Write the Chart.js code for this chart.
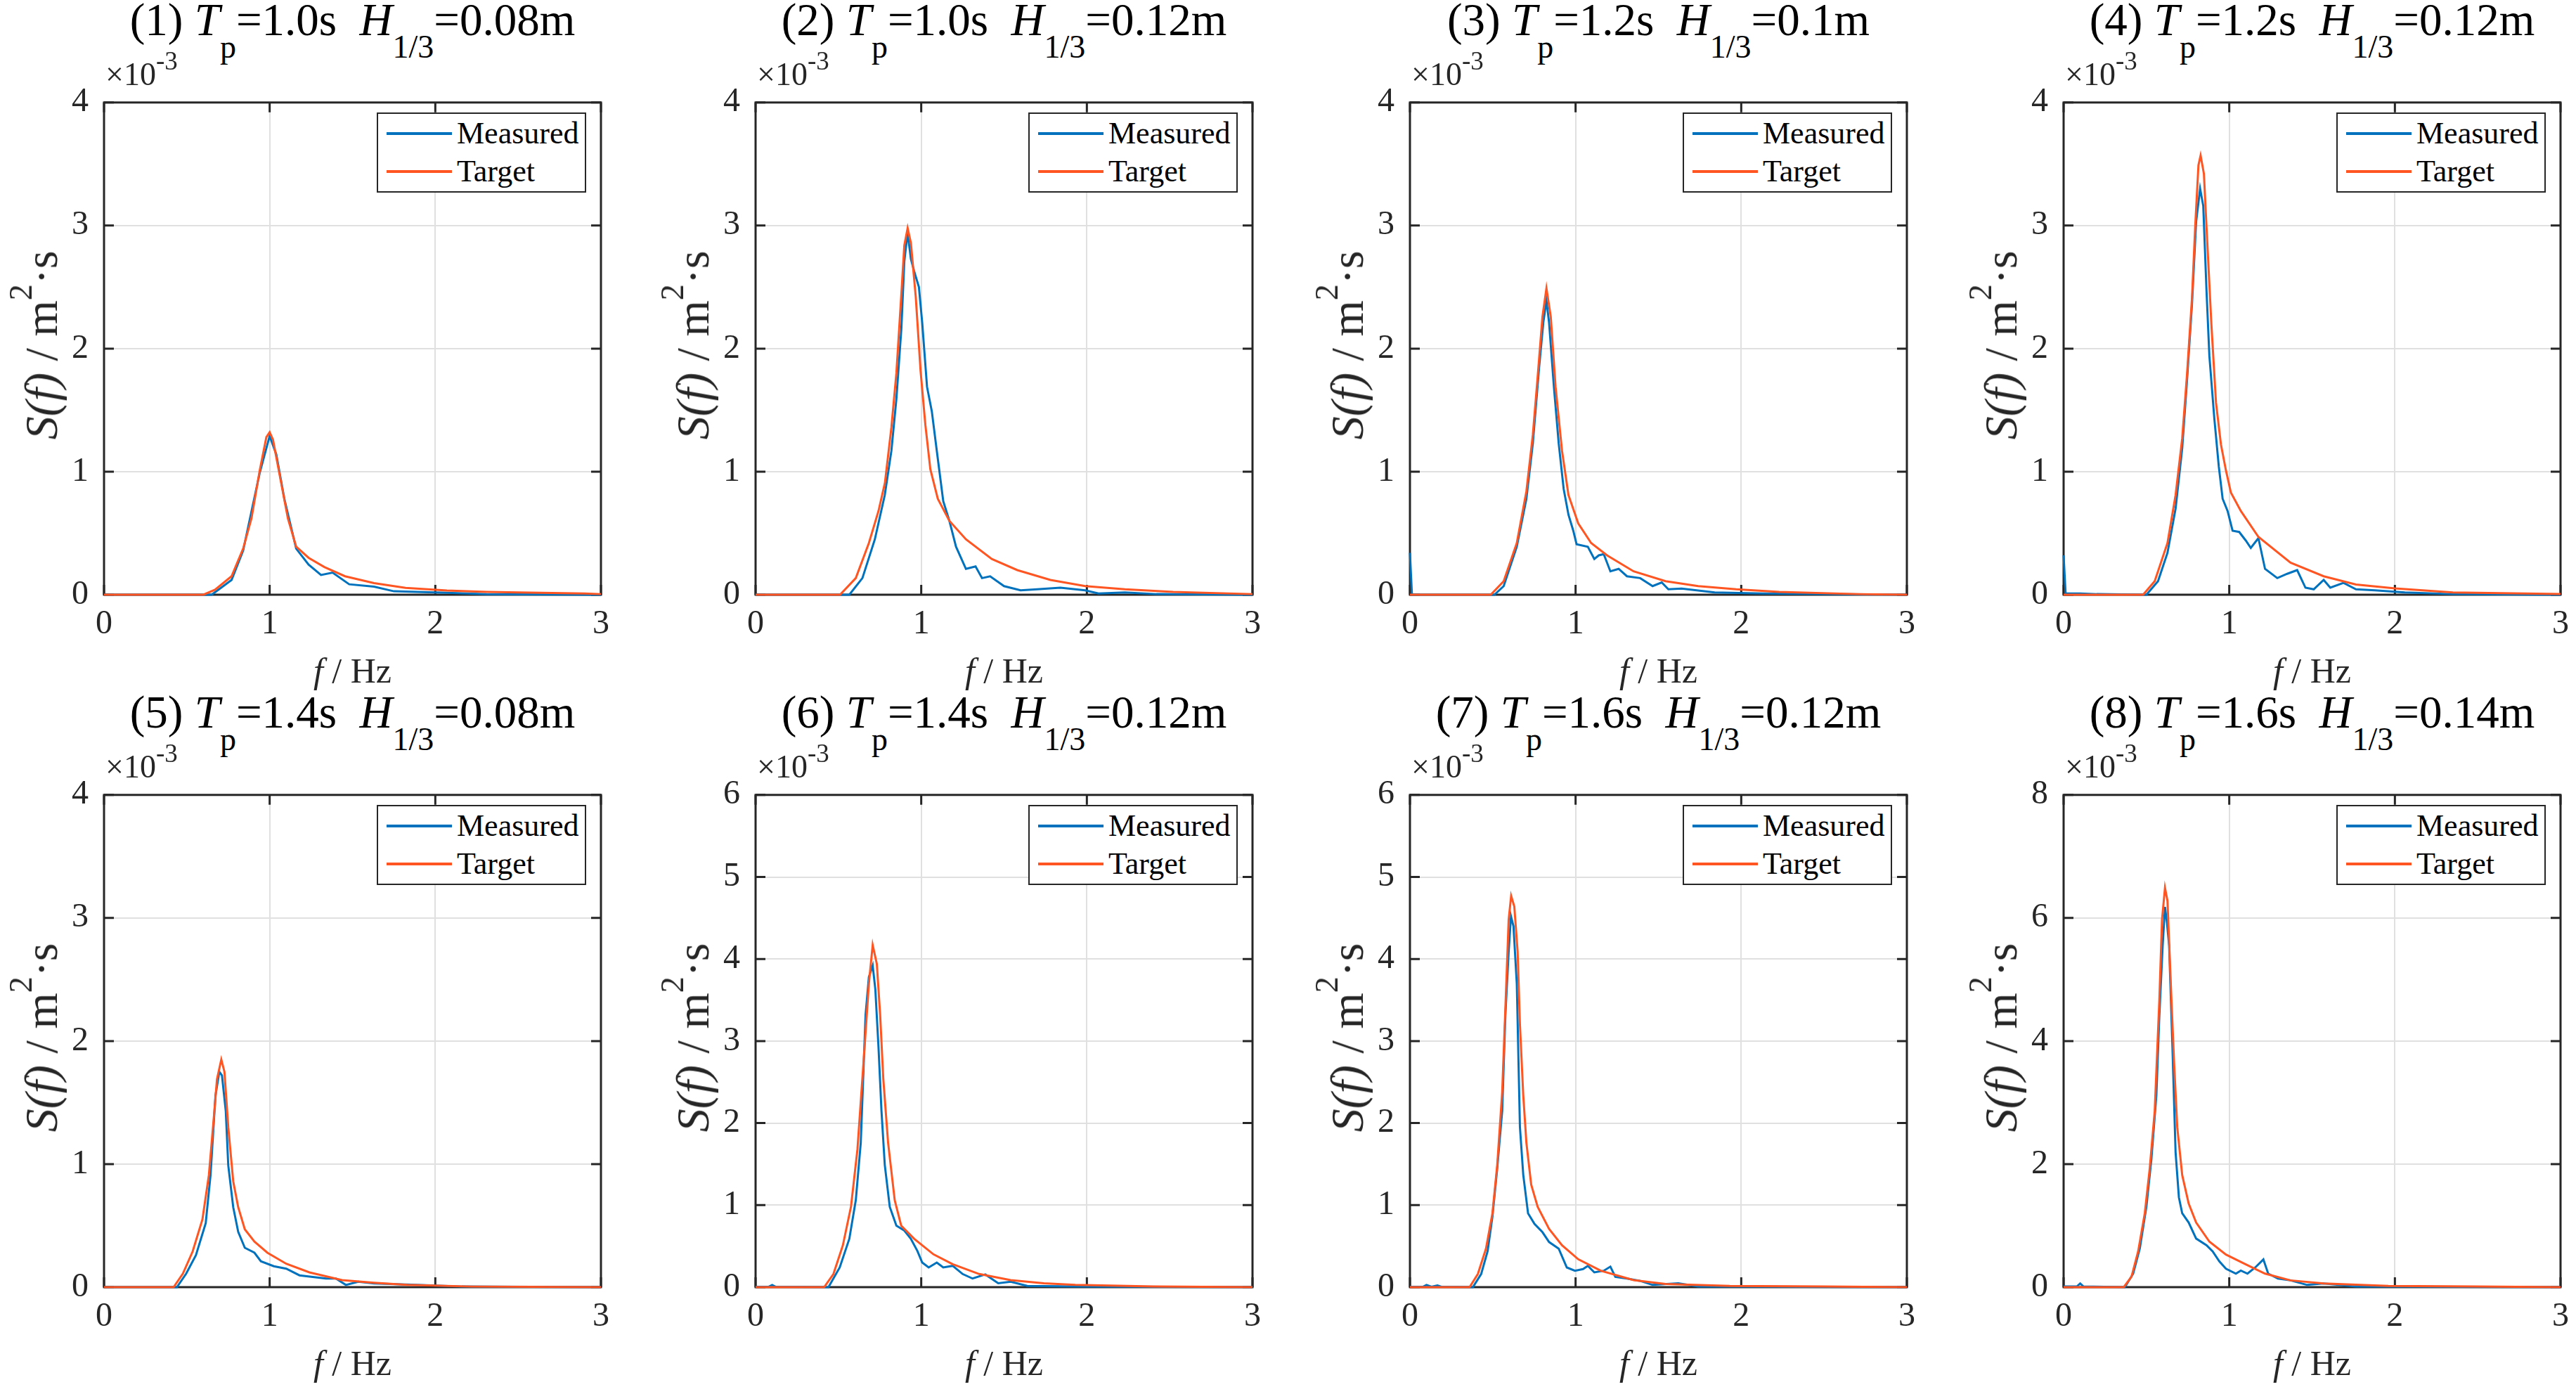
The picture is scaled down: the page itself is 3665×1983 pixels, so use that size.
<!DOCTYPE html>
<html>
<head>
<meta charset="utf-8">
<script src="https://cdn.jsdelivr.net/npm/chart.js@4.4.0/dist/chart.umd.min.js"></script>
<style>
html, body { margin: 0; padding: 0; background: #fff; }
body { width: 3665px; height: 1983px; position: relative; overflow: hidden;
       font-family: 'Liberation Serif', 'Times New Roman', serif; color: #000; }
canvas { position: absolute; }
.title { position: absolute; font-size: 65px; line-height: 1; white-space: nowrap; transform: translateX(-50%); }
.title sub { font-size: 46px; vertical-align: -32px; line-height: 0; }
.xlabel { position: absolute; font-size: 50px; line-height: 1; white-space: nowrap; transform: translateX(-50%); color: #262626; }
.ylabel { position: absolute; font-size: 66px; line-height: 1; white-space: nowrap;
          transform: translate(-50%, -50%) rotate(-90deg); color: #262626; }
.ylabel sup { font-size: 46px; vertical-align: 36px; line-height: 0; }
.expo { position: absolute; font-size: 46px; line-height: 1; white-space: nowrap; color: #262626; }
.expo sup { font-size: 37px; vertical-align: 22px; line-height: 0; }
.legend { position: absolute; width: 298px; height: 114px; box-sizing: border-box;
          border: 2px solid #262626; background: #fff; }
.legend .swatch { position: absolute; left: 12px; width: 93px; height: 4px; }
.legend .lab { position: absolute; left: 112px; font-size: 44px; line-height: 1; color: #000; }
</style>
</head>
<body>
<script>
// spectra in units of 1e-3 m^2*s
const targetF1 = [0, 0.60, 0.67, 0.77, 0.84, 0.89, 0.94, 0.98, 1.00, 1.02, 1.06, 1.11, 1.16, 1.235, 1.33, 1.455, 1.63, 1.82, 2.07, 2.31, 2.9, 3.0];
const targetS1 = [0, 0, 0.04, 0.15, 0.375, 0.62, 1.01, 1.28, 1.32, 1.26, 0.975, 0.62, 0.39, 0.30, 0.225, 0.15, 0.094, 0.056, 0.034, 0.023, 0.01, 0.005];
const measuredF1 = [0, 0.65, 0.77, 0.84, 0.94, 1.00, 1.04, 1.09, 1.16, 1.235, 1.31, 1.38, 1.48, 1.63, 1.75, 2.07, 2.31, 3.0];
const measuredS1 = [0, 0, 0.12, 0.36, 0.99, 1.29, 1.14, 0.77, 0.375, 0.245, 0.16, 0.18, 0.085, 0.066, 0.028, 0.015, 0.004, 0];

const targetF2 = [0, 0.51, 0.605, 0.684, 0.742, 0.781, 0.82, 0.85, 0.879, 0.898, 0.918, 0.9375, 0.967, 0.996, 1.025, 1.055, 1.10, 1.17, 1.27, 1.426, 1.58, 1.78, 1.99, 2.23, 2.52, 3.0];
const targetS2 = [0, 0, 0.135, 0.42, 0.68, 0.91, 1.36, 1.80, 2.42, 2.84, 2.98, 2.86, 2.42, 1.82, 1.38, 1.02, 0.78, 0.60, 0.45, 0.29, 0.20, 0.12, 0.07, 0.044, 0.023, 0.005];
const measuredF2 = [0, 0.566, 0.645, 0.72, 0.78, 0.82, 0.85, 0.88, 0.898, 0.918, 0.9375, 0.957, 0.986, 1.006, 1.035, 1.064, 1.094, 1.133, 1.17, 1.21, 1.27, 1.328, 1.367, 1.416, 1.50, 1.60, 1.70, 1.84, 1.99, 2.07, 2.23, 2.42, 3.0];
const measuredS2 = [0, 0, 0.135, 0.45, 0.81, 1.17, 1.59, 2.16, 2.71, 2.94, 2.73, 2.63, 2.50, 2.21, 1.69, 1.49, 1.17, 0.76, 0.60, 0.39, 0.21, 0.23, 0.135, 0.15, 0.07, 0.036, 0.044, 0.057, 0.036, 0.01, 0.018, 0.005, 0];

const targetF3 = [0, 0.488, 0.566, 0.645, 0.703, 0.742, 0.771, 0.80, 0.824, 0.85, 0.879, 0.918, 0.957, 1.016, 1.094, 1.19, 1.35, 1.543, 1.74, 1.97, 2.23, 2.71, 3.0];
const targetS3 = [0, 0, 0.11, 0.42, 0.84, 1.30, 1.77, 2.26, 2.49, 2.26, 1.69, 1.17, 0.81, 0.58, 0.42, 0.32, 0.19, 0.11, 0.07, 0.044, 0.023, 0.005, 0];
const measuredF3 = [0, 0.012, 0.51, 0.566, 0.645, 0.703, 0.742, 0.78, 0.805, 0.824, 0.84, 0.869, 0.898, 0.928, 0.957, 0.986, 1.006, 1.074, 1.113, 1.14, 1.17, 1.21, 1.26, 1.31, 1.39, 1.465, 1.52, 1.56, 1.64, 1.84, 2.13, 3.0];
const measuredS3 = [0.34, 0, 0, 0.07, 0.39, 0.78, 1.23, 1.85, 2.21, 2.39, 2.21, 1.69, 1.23, 0.86, 0.65, 0.52, 0.41, 0.39, 0.29, 0.32, 0.33, 0.19, 0.21, 0.15, 0.135, 0.07, 0.10, 0.044, 0.05, 0.018, 0.01, 0];

const targetF4 = [0, 0.48, 0.55, 0.627, 0.676, 0.716, 0.745, 0.775, 0.794, 0.814, 0.827, 0.847, 0.863, 0.892, 0.92, 0.95, 0.98, 1.01, 1.07, 1.176, 1.37, 1.57, 1.765, 2.0, 2.35, 3.0];
const targetS4 = [0, 0, 0.11, 0.42, 0.81, 1.27, 1.79, 2.41, 2.98, 3.49, 3.57, 3.42, 2.98, 2.20, 1.56, 1.22, 1.01, 0.83, 0.68, 0.47, 0.26, 0.15, 0.083, 0.052, 0.018, 0.005];
const measuredF4 = [0, 0.012, 0.1, 0.2, 0.5, 0.57, 0.627, 0.676, 0.716, 0.745, 0.775, 0.80, 0.824, 0.843, 0.863, 0.88, 0.91, 0.937, 0.96, 0.99, 1.02, 1.06, 1.10, 1.13, 1.176, 1.216, 1.29, 1.35, 1.41, 1.46, 1.51, 1.57, 1.61, 1.69, 1.765, 1.88, 2.06, 2.35, 3.0];
const measuredS4 = [0.32, 0.01, 0.01, 0.005, 0, 0.11, 0.34, 0.70, 1.19, 1.74, 2.36, 3.03, 3.30, 3.16, 2.46, 1.94, 1.43, 1.04, 0.78, 0.68, 0.52, 0.51, 0.44, 0.38, 0.46, 0.21, 0.135, 0.17, 0.20, 0.057, 0.044, 0.12, 0.057, 0.096, 0.044, 0.036, 0.018, 0.005, 0];

const targetF5 = [0, 0.42, 0.476, 0.535, 0.594, 0.633, 0.663, 0.682, 0.708, 0.727, 0.75, 0.78, 0.81, 0.85, 0.908, 0.986, 1.10, 1.24, 1.437, 1.63, 1.83, 2.22, 3.0];
const targetS5 = [0, 0, 0.11, 0.29, 0.55, 0.91, 1.38, 1.69, 1.85, 1.75, 1.30, 0.86, 0.65, 0.47, 0.37, 0.28, 0.19, 0.12, 0.057, 0.036, 0.018, 0.005, 0];
const measuredF5 = [0, 0.44, 0.496, 0.555, 0.614, 0.643, 0.673, 0.696, 0.712, 0.735, 0.75, 0.78, 0.81, 0.85, 0.908, 0.947, 1.025, 1.10, 1.18, 1.34, 1.40, 1.46, 1.535, 1.63, 1.89, 2.16, 3.0];
const measuredS5 = [0, 0, 0.11, 0.26, 0.52, 0.91, 1.56, 1.75, 1.72, 1.43, 0.99, 0.65, 0.45, 0.32, 0.28, 0.21, 0.17, 0.15, 0.096, 0.07, 0.07, 0.018, 0.044, 0.03, 0.018, 0.005, 0];

const targetF6 = [0, 0.414, 0.47, 0.527, 0.576, 0.615, 0.654, 0.684, 0.707, 0.732, 0.752, 0.771, 0.80, 0.84, 0.879, 0.957, 1.074, 1.19, 1.35, 1.54, 1.74, 1.93, 2.40, 3.0];
const targetS6 = [0, 0, 0.16, 0.51, 0.98, 1.68, 2.81, 3.70, 4.17, 3.94, 3.32, 2.54, 1.76, 1.06, 0.75, 0.59, 0.40, 0.28, 0.16, 0.086, 0.047, 0.027, 0.008, 0];
const measuredF6 = [0, 0.08, 0.1, 0.12, 0.44, 0.508, 0.566, 0.605, 0.635, 0.664, 0.684, 0.707, 0.723, 0.742, 0.76, 0.78, 0.81, 0.85, 0.898, 0.937, 0.977, 1.006, 1.045, 1.094, 1.133, 1.19, 1.25, 1.31, 1.387, 1.465, 1.54, 1.64, 1.93, 3.0];
const measuredS6 = [0.005, 0.005, 0.027, 0.005, 0, 0.24, 0.59, 1.06, 1.76, 3.32, 3.78, 3.92, 3.63, 2.93, 2.15, 1.49, 0.98, 0.75, 0.69, 0.59, 0.44, 0.30, 0.24, 0.30, 0.24, 0.26, 0.16, 0.105, 0.155, 0.047, 0.066, 0.016, 0.008, 0];

const targetF7 = [0, 0.36, 0.41, 0.459, 0.498, 0.527, 0.557, 0.576, 0.596, 0.611, 0.63, 0.65, 0.664, 0.684, 0.703, 0.732, 0.771, 0.84, 0.918, 1.016, 1.152, 1.35, 1.543, 1.93, 2.48, 3.0];
const targetS7 = [0, 0, 0.16, 0.47, 0.90, 1.49, 2.38, 3.39, 4.48, 4.77, 4.64, 4.09, 3.20, 2.34, 1.76, 1.25, 0.98, 0.71, 0.51, 0.34, 0.20, 0.086, 0.039, 0.016, 0.008, 0];
const measuredF7 = [0, 0.08, 0.1, 0.13, 0.166, 0.19, 0.38, 0.43, 0.469, 0.498, 0.527, 0.557, 0.576, 0.596, 0.61, 0.625, 0.645, 0.664, 0.684, 0.713, 0.752, 0.80, 0.84, 0.898, 0.947, 0.996, 1.045, 1.074, 1.113, 1.17, 1.21, 1.24, 1.31, 1.387, 1.465, 1.62, 1.74, 3.0];
const measuredS7 = [0.005, 0.005, 0.027, 0.005, 0.02, 0.005, 0, 0.16, 0.44, 0.86, 1.45, 2.15, 3.31, 4.09, 4.52, 4.40, 3.70, 1.95, 1.37, 0.90, 0.77, 0.67, 0.55, 0.47, 0.24, 0.20, 0.22, 0.26, 0.18, 0.20, 0.25, 0.125, 0.105, 0.078, 0.027, 0.047, 0.008, 0];

const targetF8 = [0, 0.363, 0.41, 0.45, 0.49, 0.52, 0.55, 0.578, 0.594, 0.612, 0.627, 0.647, 0.667, 0.686, 0.716, 0.755, 0.80, 0.88, 0.98, 1.10, 1.216, 1.37, 1.57, 1.96, 2.47, 3.0];
const targetS8 = [0, 0, 0.17, 0.58, 1.20, 1.93, 2.86, 4.67, 5.97, 6.49, 6.28, 4.93, 3.64, 2.60, 1.82, 1.36, 1.05, 0.74, 0.53, 0.37, 0.22, 0.11, 0.06, 0.02, 0.01, 0];
const measuredF8 = [0, 0.08, 0.1, 0.12, 0.37, 0.42, 0.46, 0.50, 0.53, 0.56, 0.578, 0.598, 0.612, 0.624, 0.637, 0.657, 0.676, 0.696, 0.716, 0.755, 0.80, 0.863, 0.90, 0.94, 0.98, 1.04, 1.07, 1.11, 1.157, 1.206, 1.235, 1.294, 1.37, 1.47, 1.57, 1.765, 3.0];
const measuredS8 = [0.01, 0.01, 0.06, 0.01, 0, 0.22, 0.63, 1.31, 2.08, 3.12, 4.41, 5.55, 6.18, 5.92, 5.55, 3.90, 2.19, 1.46, 1.20, 1.05, 0.79, 0.68, 0.58, 0.42, 0.30, 0.22, 0.27, 0.22, 0.32, 0.45, 0.22, 0.14, 0.11, 0.036, 0.06, 0.01, 0];

const peakPeriods = ['1.0', '1.0', '1.2', '1.2', '1.4', '1.4', '1.6', '1.6'];
const waveHeights = ['0.08', '0.12', '0.1', '0.12', '0.08', '0.12', '0.12', '0.14'];
const yMaxes = [4, 4, 4, 4, 4, 6, 6, 8];
const ySteps = [1, 1, 1, 1, 1, 1, 1, 2];
const xTicks = [0, 1, 2, 3];

const targetF = [targetF1, targetF2, targetF3, targetF4, targetF5, targetF6, targetF7, targetF8];
const targetS = [targetS1, targetS2, targetS3, targetS4, targetS5, targetS6, targetS7, targetS8];
const measuredF = [measuredF1, measuredF2, measuredF3, measuredF4, measuredF5, measuredF6, measuredF7, measuredF8];
const measuredS = [measuredS1, measuredS2, measuredS3, measuredS4, measuredS5, measuredS6, measuredS7, measuredS8];

const BLUE = '#0072BD';
const ORANGE = '#FF5522';
const FONT = "'Liberation Serif', 'Times New Roman', serif";

// plot area geometry (px)
const W = 707, H = 711;
const plotLefts = [148, 1075, 2006, 2936];
const plotTops = [135, 1120];
const padL = 130, padT = 40, padR = 30, padB = 80;

function toPoints(fs, ss) {
    return fs.map((f, k) => ({ x: f, y: ss[k] }));
}

// MATLAB-like box with inward ticks
const boxPlugin = {
    id: 'matlabBox',
    beforeDatasetsDraw(chart) {
        const { ctx, chartArea: a, scales } = chart;
        const tl = 14;
        ctx.save();
        ctx.strokeStyle = '#262626';
        ctx.lineWidth = 3;
        ctx.beginPath();
        scales.x.ticks.forEach(t => {
            const x = scales.x.getPixelForValue(t.value);
            ctx.moveTo(x, a.bottom); ctx.lineTo(x, a.bottom - tl);
            ctx.moveTo(x, a.top); ctx.lineTo(x, a.top + tl);
        });
        scales.y.ticks.forEach(t => {
            const y = scales.y.getPixelForValue(t.value);
            ctx.moveTo(a.left, y); ctx.lineTo(a.left + tl, y);
            ctx.moveTo(a.right, y); ctx.lineTo(a.right - tl, y);
        });
        ctx.stroke();
        ctx.strokeRect(a.left, a.top, a.right - a.left, a.bottom - a.top);
        ctx.restore();
    }
};

function addDiv(cls, html, left, top) {
    const d = document.createElement('div');
    d.className = cls;
    d.innerHTML = html;
    d.style.left = left + 'px';
    d.style.top = top + 'px';
    document.body.appendChild(d);
    return d;
}

for (let i = 0; i < 8; i++) {
    const left = plotLefts[i % 4];
    const top = plotTops[Math.floor(i / 4)];
    const bottom = top + H;
    const cx = left + W / 2;

    const canvas = document.createElement('canvas');
    canvas.width = W + padL + padR;
    canvas.height = H + padT + padB;
    canvas.style.left = (left - padL) + 'px';
    canvas.style.top = (top - padT) + 'px';
    document.body.appendChild(canvas);

    new Chart(canvas.getContext('2d'), {
        type: 'line',
        data: {
            datasets: [{
                label: 'Measured',
                data: toPoints(measuredF[i], measuredS[i]),
                borderColor: BLUE,
                borderWidth: 3,
                pointRadius: 0,
                tension: 0,
                fill: false,
                clip: 6,
                order: 1
            }, {
                label: 'Target',
                data: toPoints(targetF[i], targetS[i]),
                borderColor: ORANGE,
                borderWidth: 3,
                pointRadius: 0,
                tension: 0,
                fill: false,
                clip: 6,
                order: 0
            }]
        },
        options: {
            responsive: false,
            devicePixelRatio: 1,
            animation: false,
            layout: { padding: { top: padT, right: padR, left: 0, bottom: 0 } },
            plugins: {
                legend: { display: false },
                tooltip: { enabled: false }
            },
            scales: {
                x: {
                    type: 'linear',
                    min: 0,
                    max: 3,
                    afterBuildTicks: s => { s.ticks = xTicks.map(v => ({ value: v })); },
                    ticks: { font: { family: FONT, size: 48 }, color: '#262626', padding: 14, maxRotation: 0 },
                    grid: { color: '#e0e0e0', lineWidth: 2, drawTicks: false },
                    border: { display: false },
                    afterFit: s => { s.height = padB; }
                },
                y: {
                    min: 0,
                    max: yMaxes[i],
                    ticks: { stepSize: ySteps[i], font: { family: FONT, size: 48 }, color: '#262626', padding: 22 },
                    grid: { color: '#e0e0e0', lineWidth: 2, drawTicks: false },
                    border: { display: false },
                    afterFit: s => { s.width = padL; }
                }
            }
        },
        plugins: [boxPlugin]
    });

    addDiv('title', '(' + (i + 1) + ') <i>T</i><sub>p</sub>=' + peakPeriods[i] + 's&nbsp;&nbsp;<i>H</i><sub>1/3</sub>=' + waveHeights[i] + 'm',
        cx, top - 85 - 54);
    addDiv('xlabel', '<i>f</i> / Hz', cx, bottom + 83);
    addDiv('ylabel', '<i>S(f)</i> / m<sup>2</sup>·s', left - 89, top + H / 2);
    addDiv('expo', '×10<sup>-3</sup>', left + 2, top - 13 - 39);

    const lg = addDiv('legend', '', left + W - 21 - 298, top + 25);
    lg.innerHTML =
        '<div class="swatch" style="top:26px;background:' + BLUE + '"></div>' +
        '<div class="lab" style="top:6px">Measured</div>' +
        '<div class="swatch" style="top:80px;background:' + ORANGE + '"></div>' +
        '<div class="lab" style="top:60px">Target</div>';
}
</script>
</body>
</html>
